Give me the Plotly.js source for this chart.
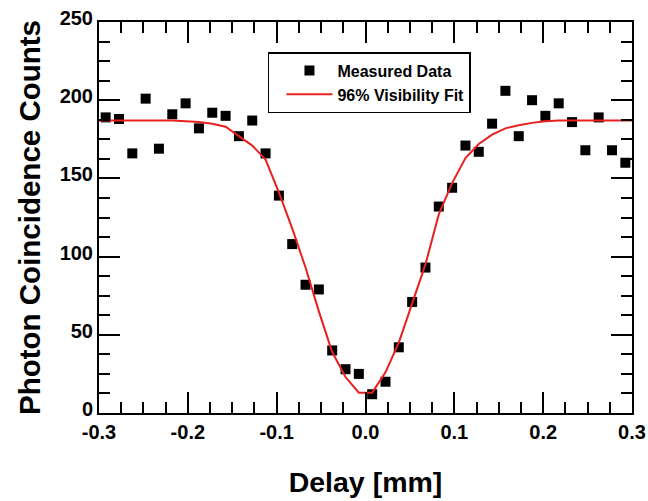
<!DOCTYPE html>
<html>
<head>
<meta charset="utf-8">
<script src="https://cdn.plot.ly/plotly-3.0.1.min.js"></script>
<style>html,body{margin:0;padding:0;background:#fff;}#chart{width:648px;height:501px;}</style>
</head>
<body>
<div id="chart"></div>
<script>
// Measured data: delay [mm] and coincidence counts
const delay = [-0.2925, -0.2775, -0.2625, -0.2475, -0.2325, -0.2175, -0.2025, -0.1875, -0.1725, -0.1575,
               -0.1425, -0.1275, -0.1125, -0.0975, -0.0825, -0.0675, -0.0525, -0.0375, -0.0225, -0.0075,
                0.0075,  0.0225,  0.0375,  0.0525,  0.0675,  0.0825,  0.0975,  0.1125,  0.1275,  0.1425,
                0.1575,  0.1725,  0.1875,  0.2025,  0.2175,  0.2325,  0.2475,  0.2625,  0.2775,  0.2925];
const counts = [189, 188, 166, 201, 169, 191, 198, 182, 192, 190,
                177, 187, 166, 139, 108, 82, 79, 40, 28, 25,
                12, 20, 42, 71, 93, 132, 144, 171, 167, 185,
                206, 177, 200, 190, 198, 186, 168, 189, 168, 160];

// 96% visibility fit curve
const fitDelay = [-0.3, -0.2925, -0.2775, -0.2625, -0.2475, -0.2325, -0.2175, -0.2025, -0.1875, -0.1725, -0.1575,
                  -0.1425, -0.1275, -0.1125, -0.0975, -0.0825, -0.0675, -0.0525, -0.0375, -0.0225, -0.0075,
                   0.0075,  0.0225,  0.0375,  0.0525,  0.0675,  0.0825,  0.0975,  0.1125,  0.1275,  0.1425,
                   0.1575,  0.1725,  0.1875,  0.2025,  0.2175,  0.2325,  0.2475,  0.2625,  0.2775,  0.2925, 0.3];
const fitCounts = [187, 187, 187, 187, 187, 187, 187, 186.5, 186, 185, 183,
                   177, 171, 162, 141, 118, 93, 65, 39, 23, 13,
                   13, 26, 45, 70, 95, 127, 147, 163, 172, 178,
                   182, 184, 185.5, 186.5, 187, 187, 187, 187, 187, 187, 187];

const seriesNames = ['Measured Data', '96% Visibility Fit'];
const xTickVals = [-0.3, -0.2, -0.1, 0.0, 0.1, 0.2, 0.3];
const xTickText = ['-0.3', '-0.2', '-0.1', '0.0', '0.1', '0.2', '0.3'];
const yTickVals = [0, 50, 100, 150, 200, 250];
const yTickText = ['0', '50', '100', '150', '200', '250'];
const xRange = [-0.3, 0.3];
const yRange = [0, 250];

const FONT = 'Liberation Sans, Arial, sans-serif';

const traces = [
  {
    x: delay, y: counts, name: seriesNames[0], type: 'scatter', mode: 'markers',
    marker: {symbol: 'square', size: 10, color: '#000000', line: {width: 0}},
    cliponaxis: false
  },
  {
    x: fitDelay, y: fitCounts, name: seriesNames[1], type: 'scatter', mode: 'lines',
    line: {color: '#e8201f', width: 2}
  },
  // invisible companion so the mirrored (top/right) tick axes are drawn
  {
    x: delay, y: counts, xaxis: 'x2', yaxis: 'y2', type: 'scatter', mode: 'markers',
    marker: {opacity: 0}, showlegend: false, hoverinfo: 'skip'
  }
];

const tickCommon = {
  ticks: 'inside', ticklen: 21, tickwidth: 2, tickcolor: '#000',
  showgrid: false, zeroline: false
};

const axisCommon = Object.assign({}, tickCommon, {
  showline: true, linecolor: '#000', linewidth: 2, mirror: true,
  tickfont: {family: FONT, size: 20, color: '#000', weight: 'bold'}
});

const xMinor = {dtick: 0.025, ticks: 'inside', ticklen: 11, tickwidth: 2, tickcolor: '#000', showgrid: false};
const yMinor = {dtick: 12.5, ticks: 'inside', ticklen: 11, tickwidth: 2, tickcolor: '#000', showgrid: false};

const layout = {
  width: 648, height: 501,
  margin: {l: 99, r: 16, t: 22, b: 88},
  paper_bgcolor: '#fff', plot_bgcolor: '#fff',
  showlegend: true,
  xaxis: Object.assign({}, axisCommon, {
    range: xRange, tickmode: 'array', tickvals: xTickVals, ticktext: xTickText,
    minor: xMinor,
    title: {text: 'Delay [mm]', font: {family: FONT, size: 28.5, color: '#000', weight: 'bold'}, standoff: 30}
  }),
  yaxis: Object.assign({}, axisCommon, {
    range: yRange, tickmode: 'array', tickvals: yTickVals, ticktext: yTickText,
    minor: yMinor, ticklabelshift: -4,
    title: {text: 'Photon Coincidence Counts', font: {family: FONT, size: 29.5, color: '#000', weight: 'bold'}, standoff: 10}
  }),
  xaxis2: Object.assign({}, tickCommon, {
    overlaying: 'x', side: 'top', anchor: 'y', range: xRange,
    tickmode: 'array', tickvals: xTickVals, showticklabels: false, showline: false,
    minor: xMinor
  }),
  yaxis2: Object.assign({}, tickCommon, {
    overlaying: 'y', side: 'right', anchor: 'x', range: yRange,
    tickmode: 'array', tickvals: yTickVals, showticklabels: false, showline: false,
    minor: yMinor
  }),
  legend: {
    x: 0.317, y: 0.923, xanchor: 'left', yanchor: 'top',
    bgcolor: '#fff', bordercolor: '#000', borderwidth: 1.5,
    font: {family: FONT, size: 16, color: '#000', weight: 'bold'},
    itemwidth: 46, indentation: 12, tracegroupgap: 0
  }
};

Plotly.newPlot('chart', traces, layout, {displayModeBar: false, staticPlot: true});
</script>
</body>
</html>
